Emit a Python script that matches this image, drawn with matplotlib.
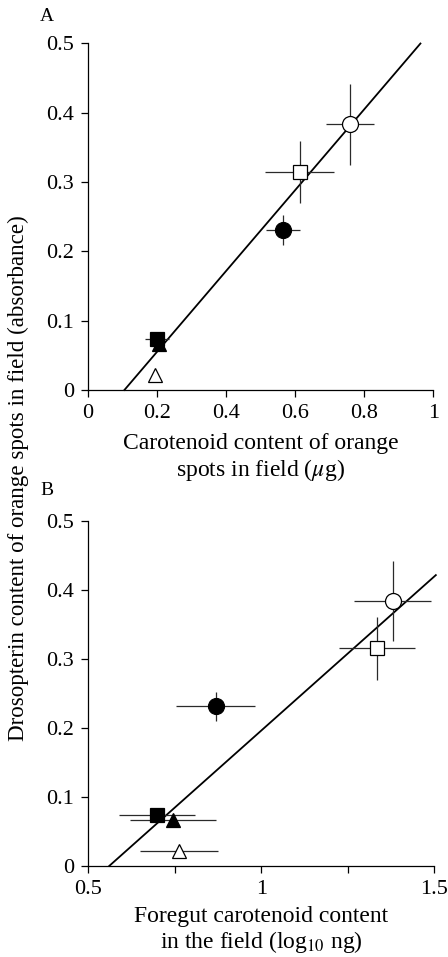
import matplotlib
matplotlib.use("Agg")
import matplotlib.pyplot as plt
import numpy as np

plt.rcParams['font.family'] = ['Liberation Serif', 'DejaVu Serif']
plt.rcParams['mathtext.fontset'] = 'stix'

# Point styles shared by both panels
markers = ['o', 's', 'o', 's', '^', '^']
fills = ['white', 'white', 'black', 'black', 'black', 'white']
sizes = [11.5, 9.5, 11.5, 9.5, 10, 10]

# Panel A: carotenoid content of orange spots vs drosopterin
a_x = [0.759, 0.614, 0.566, 0.200, 0.207, 0.195]
a_xerr = [0.069, 0.100, 0.049, 0.034, 0.012, 0.0]
a_y = [0.383, 0.314, 0.231, 0.074, 0.067, 0.022]
a_yerr = [0.058, 0.045, 0.022, 0.010, 0.006, 0.0]
a_slope, a_icpt = 0.583, -0.0618
a_line_x = [0.106, 0.963]

# Panel B: foregut carotenoid content vs drosopterin
b_x = [1.380, 1.334, 0.869, 0.700, 0.746, 0.763]
b_xerr = [0.112, 0.110, 0.114, 0.110, 0.124, 0.112]
b_y = [0.384, 0.315, 0.231, 0.074, 0.066, 0.022]
b_yerr = [0.058, 0.045, 0.021, 0.010, 0.006, 0.0]
b_slope, b_icpt = 0.446, -0.250
b_line_x = [0.561, 1.505]

fig = plt.figure(figsize=(4.48, 9.57), dpi=100)
ax_a = fig.add_axes([0.196, 0.5925, 0.771, 0.3623])
ax_b = fig.add_axes([0.197, 0.0951, 0.772, 0.3608])


def draw_panel(ax, xs, xerr, ys, yerr, slope, icpt, line_x):
    lx = np.array(line_x)
    ax.plot(lx, slope * lx + icpt, color='black', lw=1.3, zorder=2, clip_on=False)
    for i in range(len(xs)):
        ax.errorbar(xs[i], ys[i], xerr=xerr[i], yerr=yerr[i], fmt='none',
                    ecolor='#2a2a2a', elinewidth=0.9, capsize=0, zorder=3)
        ax.plot(xs[i], ys[i], marker=markers[i], ms=sizes[i], mfc=fills[i],
                mec='black', mew=0.9, ls='none', zorder=4, clip_on=False)
    for s in ['top', 'right']:
        ax.spines[s].set_visible(False)
    for s in ['left', 'bottom']:
        ax.spines[s].set_linewidth(0.9)
    ax.tick_params(direction='out', length=5, width=0.9, labelsize=16, pad=5)
    ax.set_ylim(0, 0.5)
    ax.set_yticks([0, 0.1, 0.2, 0.3, 0.4, 0.5])
    ax.set_yticklabels(['0', '0.1', '0.2', '0.3', '0.4', '0.5'])


draw_panel(ax_a, a_x, a_xerr, a_y, a_yerr, a_slope, a_icpt, a_line_x)
ax_a.set_xlim(0, 1)
ax_a.set_xticks([0, 0.2, 0.4, 0.6, 0.8, 1])
ax_a.set_xticklabels(['0', '0.2', '0.4', '0.6', '0.8', '1'])
ax_a.set_xlabel('Carotenoid content of orange\nspots in field ($\\mu$g)', fontsize=17,
                linespacing=1.2, labelpad=7)

draw_panel(ax_b, b_x, b_xerr, b_y, b_yerr, b_slope, b_icpt, b_line_x)
ax_b.set_xlim(0.5, 1.5)
ax_b.set_xticks([0.5, 0.75, 1, 1.25, 1.5])
ax_b.set_xticklabels(['0.5', '', '1', '', '1.5'])
ax_b.set_xlabel('Foregut carotenoid content\nin the field (log$_{10}$ ng)', fontsize=17,
                linespacing=1.1, labelpad=5)

fig.text(0.04, 0.5, 'Drosopterin content of orange spots in field (absorbance)',
         rotation=90, ha='center', va='center', fontsize=16.6)
fig.text(0.105, 0.983, 'A', fontsize=14, ha='center', va='center')
fig.text(0.105, 0.487, 'B', fontsize=14, ha='center', va='center')

fig.savefig('out.png', dpi=100)
